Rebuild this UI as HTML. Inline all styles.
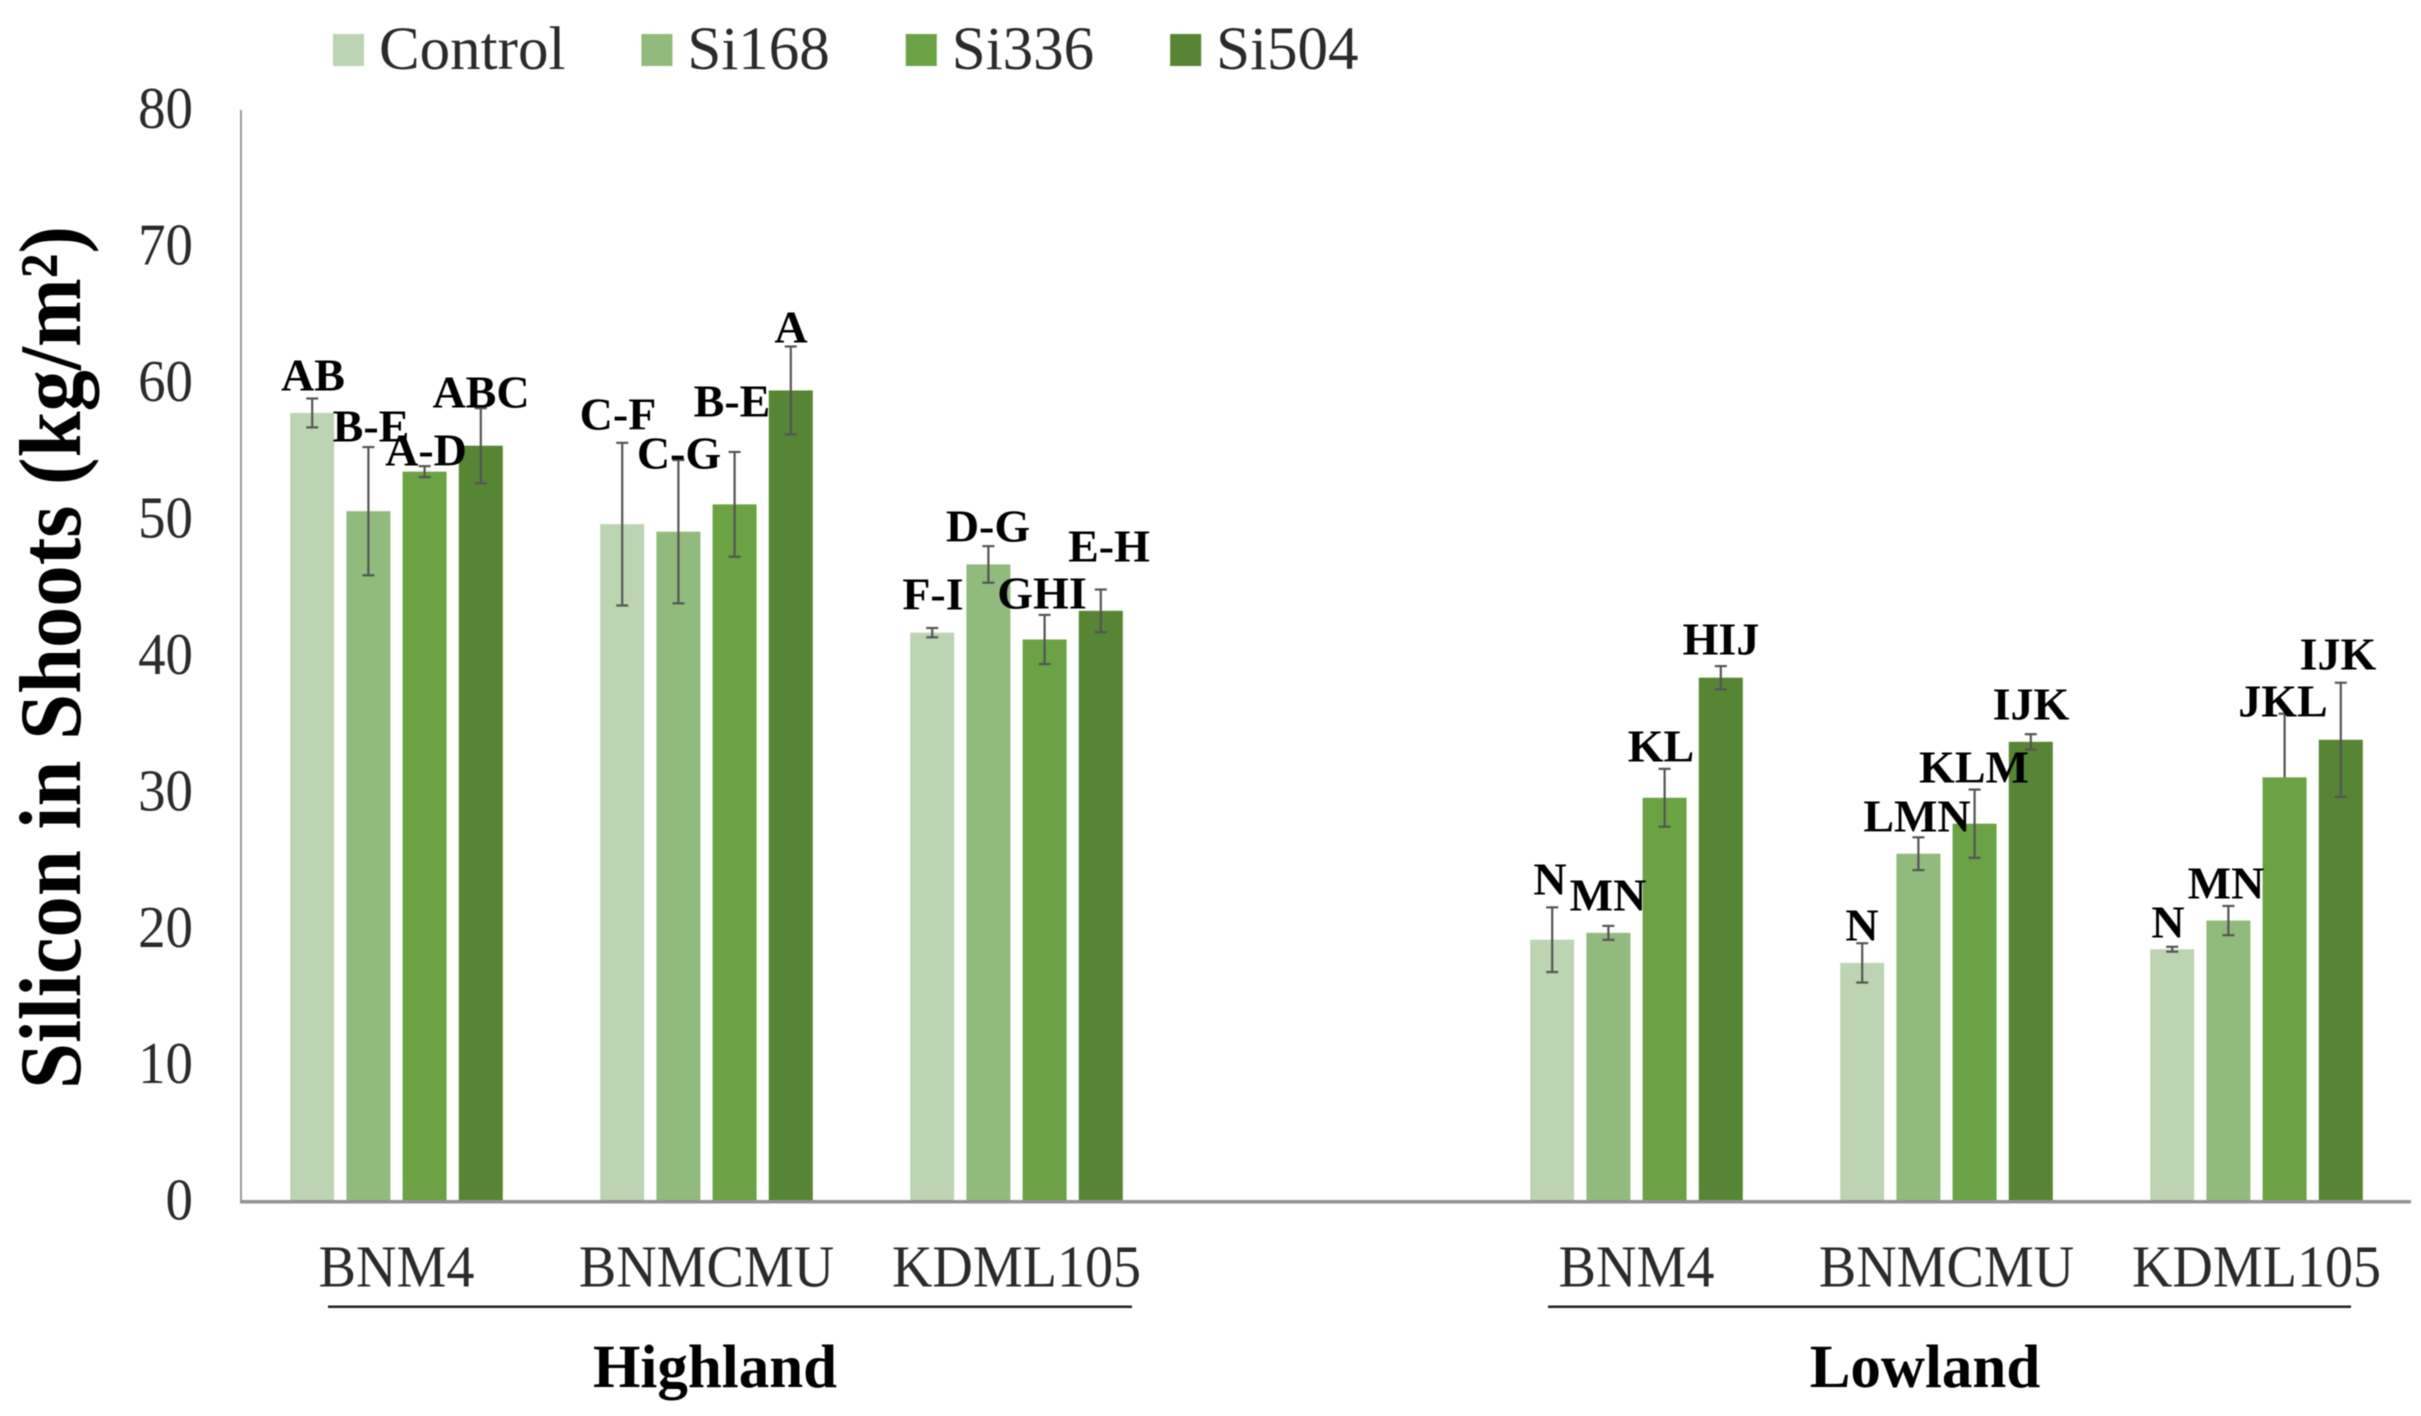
<!DOCTYPE html>
<html>
<head>
<meta charset="utf-8">
<title>Silicon in Shoots</title>
<style>
html,body{margin:0;padding:0;background:#fff;}
svg{display:block;filter:blur(0.6px);}
text{font-family:"Liberation Serif",serif;fill:#262626;}
.tick{font-size:59px;fill:#2a2a2a;transform-box:fill-box;transform-origin:right center;transform:scaleX(.93);}
.cat{font-size:59px;fill:#2a2a2a;transform-box:fill-box;transform-origin:center;transform:scaleX(.95);}
.leg{font-size:61px;fill:#2a2a2a;}
.sig{font-size:46px;font-weight:bold;fill:#000;text-anchor:middle;}
.grp{font-size:61px;font-weight:bold;fill:#000;text-anchor:middle;}
.s0{fill:#bcd4b1;}.s1{fill:#91ba7d;}.s2{fill:#6aa244;}.s3{fill:#568534;}
.err{stroke:#555;stroke-width:2.2;fill:none;}
</style>
</head>
<body>
<svg id="chart" xmlns="http://www.w3.org/2000/svg" width="2421" height="1416" viewBox="0 0 2421 1416">
  <rect x="0" y="0" width="2421" height="1416" fill="#fff"/>
  <g id="bars"></g>
  <g id="errors"></g>
  <line x1="241" y1="110" x2="241" y2="1203" stroke="#9a9a9a" stroke-width="2"/>
  <line x1="240" y1="1201.7" x2="2411" y2="1201.7" stroke="#939393" stroke-width="3.5"/>
  <g id="yticks"></g>
  <g id="xcats"></g>
  <g id="legend"></g>

  <text transform="translate(80,1089) rotate(-90)" font-size="88" font-weight="bold" style="fill:#000" textLength="863" lengthAdjust="spacingAndGlyphs">Silicon in Shoots (kg/m²)</text>

  <line x1="328" y1="1306.7" x2="1132" y2="1306.7" stroke="#222" stroke-width="2.5"/>
  <line x1="1548" y1="1306.7" x2="2351" y2="1306.7" stroke="#222" stroke-width="2.5"/>
  <text class="grp" x="715" y="1387">Highland</text>
  <text class="grp" x="1925" y="1387">Lowland</text>

  <g>
    <text class="sig" x="313" y="390.5">AB</text>
    <text class="sig" x="371" y="441.5">B-E</text>
    <text class="sig" x="426" y="465.5">A-D</text>
    <text class="sig" x="481" y="407.5">ABC</text>
    <text class="sig" x="618" y="429.5">C-F</text>
    <text class="sig" x="679" y="468.5">C-G</text>
    <text class="sig" x="732" y="416.5">B-E</text>
    <text class="sig" x="791" y="342.5">A</text>
    <text class="sig" x="933" y="609.5">F-I</text>
    <text class="sig" x="988" y="541.5">D-G</text>
    <text class="sig" x="1042" y="608.5">GHI</text>
    <text class="sig" x="1109" y="561.5">E-H</text>
    <text class="sig" x="1550" y="894.5">N</text>
    <text class="sig" x="1608" y="910.5">MN</text>
    <text class="sig" x="1661" y="761.5">KL</text>
    <text class="sig" x="1721" y="654.5">HIJ</text>
    <text class="sig" x="1862" y="940.5">N</text>
    <text class="sig" x="1917" y="831.5">LMN</text>
    <text class="sig" x="1974" y="782.5">KLM</text>
    <text class="sig" x="2031" y="719.5">IJK</text>
    <text class="sig" x="2168" y="937.5">N</text>
    <text class="sig" x="2226" y="898.5">MN</text>
    <text class="sig" x="2283" y="716.5">JKL</text>
    <text class="sig" x="2338" y="669.5">IJK</text>
  </g>
</svg>
<script>
// Categories (the empty slot separates Highland from Lowland)
var categories = ['BNM4', 'BNMCMU', 'KDML105', '', 'BNM4', 'BNMCMU', 'KDML105'];
var seriesNames = ['Control', 'Si168', 'Si336', 'Si504'];
var yTickLabels = [0, 10, 20, 30, 40, 50, 60, 70, 80];

// Series means
var control = [57.8, 49.65, 41.7, null, 19.2, 17.5, 18.5];
var si168   = [50.6, 49.1, 46.7, null, 19.7, 25.5, 20.6];
var si336   = [53.5, 51.1, 41.2, null, 29.6, 27.7, 31.1];
var si504   = [55.4, 59.45, 43.3, null, 38.4, 33.7, 33.85];

// Upper error amounts
var controlErrUp = [1.06, 5.96, 0.34, null, 2.37, 1.44, 0.18];
var si168ErrUp   = [4.7, 5.25, 1.34, null, 0.51, 1.2, 1.07];
var si336ErrUp   = [0.4, 3.84, 1.8, null, 2.12, 2.5, 4.66];
var si504ErrUp   = [2.75, 3.22, 1.56, null, 0.85, 0.56, 4.18];

// Lower error amounts
var controlErrDown = [1.06, 5.96, 0.34, null, 2.37, 1.44, 0.18];
var si168ErrDown   = [4.7, 5.25, 1.34, null, 0.51, 1.2, 1.07];
var si336ErrDown   = [0.4, 3.84, 1.8, null, 2.12, 2.5, 0];
var si504ErrDown   = [2.75, 3.22, 1.56, null, 0.85, 0.56, 4.18];

var seriesValues = [control, si168, si336, si504];
var seriesErrUp = [controlErrUp, si168ErrUp, si336ErrUp, si504ErrUp];
var seriesErrDown = [controlErrDown, si168ErrDown, si336ErrDown, si504ErrDown];

var SVGNS = 'http://www.w3.org/2000/svg';
var plotLeft = 241.5, plotRight = 2411.5, plotBottom = 1201.7, plotTop = 110, yMax = 80;
var barWidth = 44, barPitch = 56.2;

function xCenter(i) {
  return plotLeft + (plotRight - plotLeft) * (i + 0.5) / categories.length;
}
function xBar(i, s) {
  return xCenter(i) + (s - (seriesNames.length - 1) / 2) * barPitch;
}
function y(v) {
  return plotBottom - (plotBottom - plotTop) * v / yMax;
}
function make(tag, parentId) {
  var el = document.createElementNS(SVGNS, tag);
  document.getElementById(parentId).appendChild(el);
  return el;
}
function put(el, name, value) {
  el.setAttribute(name, value);
}
function errLine(x1, y1, x2, y2) {
  var el = make('line', 'errors');
  
  
  el.setAttribute('class', 'err');
  put(el, 'x1', x1);
  put(el, 'y1', y1);
  put(el, 'x2', x2);
  put(el, 'y2', y2);
}

seriesValues.forEach(function (vals, s) {
  vals.forEach(function (v, i) {
    if (v === null) return;
    var cx = xBar(i, s);
    var bar = make('rect', 'bars');
    
    
    put(bar, 'class', 's' + s);
    put(bar, 'x', cx - barWidth / 2);
    put(bar, 'y', y(v));
    put(bar, 'width', barWidth);
    put(bar, 'height', plotBottom - y(v));

    var hi = y(v + seriesErrUp[s][i]);
    var lo = y(v - seriesErrDown[s][i]);
    errLine(cx, hi, cx, lo);
    errLine(cx - 6, hi, cx + 6, hi);
    if (seriesErrDown[s][i] > 0) {
      errLine(cx - 6, lo, cx + 6, lo);
    }
  });
});

yTickLabels.forEach(function (t) {
  var el = make('text', 'yticks');
  
  
  put(el, 'class', 'tick');
  put(el, 'x', 193);
  put(el, 'y', y(t) + 18);
  put(el, 'text-anchor', 'end');
  el.textContent = t;
});

categories.forEach(function (c, i) {
  if (!c) return;
  var el = make('text', 'xcats');
  
  
  put(el, 'class', 'cat');
  put(el, 'x', xCenter(i));
  put(el, 'y', 1286.5);
  put(el, 'text-anchor', 'middle');
  el.textContent = c;
});

// Legend: entries flow left to right, each sized by its own text
var legendX = 333;
seriesNames.forEach(function (n, s) {
  var sw = make('rect', 'legend');
  
  
  put(sw, 'class', 's' + s);
  put(sw, 'x', legendX);
  put(sw, 'y', 34);
  put(sw, 'width', 31);
  put(sw, 'height', 32);
  var tx = make('text', 'legend');
  
  
  put(tx, 'class', 'leg');
  put(tx, 'x', legendX + 46);
  put(tx, 'y', 69);
  tx.textContent = n;
  legendX += 46 + tx.getComputedTextLength() + 76;
});
</script>
</body>
</html>
